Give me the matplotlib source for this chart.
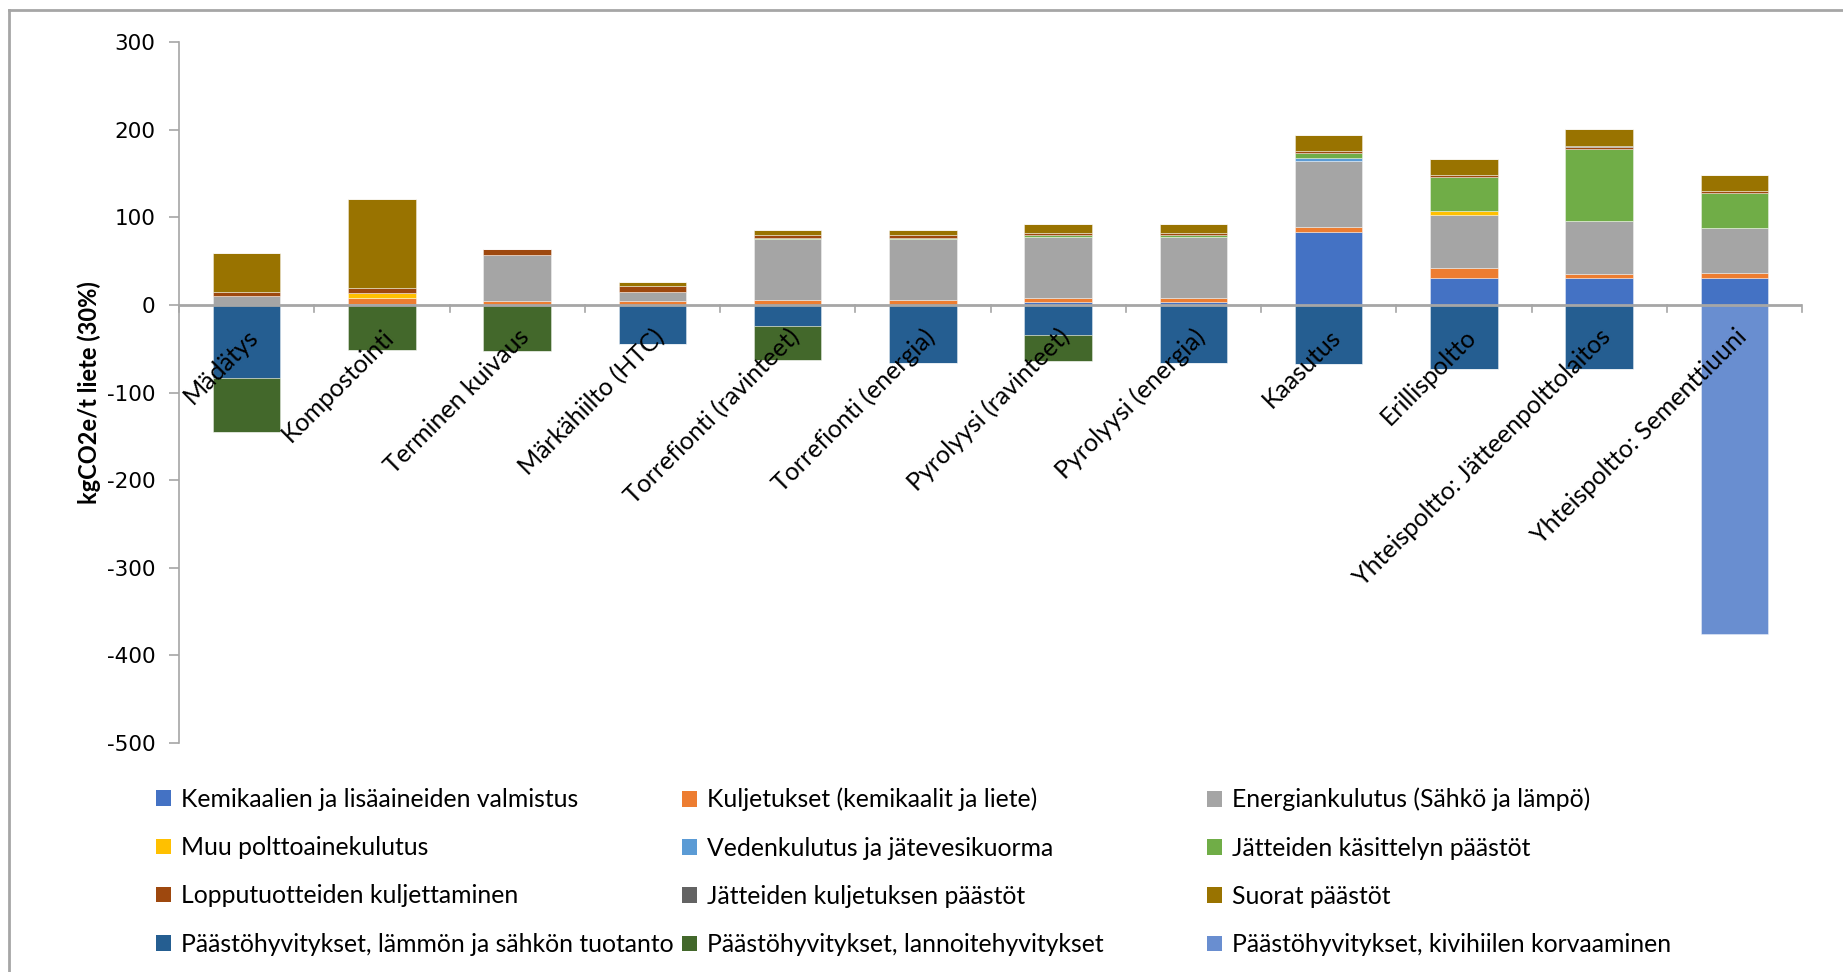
import matplotlib
matplotlib.use("Agg")
import matplotlib.pyplot as plt
from matplotlib.lines import Line2D
from matplotlib.patches import Patch
import numpy as np

plt.rcParams["axes.unicode_minus"] = False

categories = [
    "Mädätys", "Kompostointi", "Terminen kuivaus", "Märkähiilto (HTC)",
    "Torrefionti (ravinteet)", "Torrefionti (energia)", "Pyrolyysi (ravinteet)",
    "Pyrolyysi (energia)", "Kaasutus", "Erillispoltto",
    "Yhteispoltto: Jätteenpolttolaitos", "Yhteispoltto: Sementtiuuni",
]

# Emission components (kgCO2e / t sludge), positive stack from bottom up
kemikaalit = [0, 1.5, 0, 0, 0, 0, 3, 3, 83, 30.5, 30.5, 30.5]
kuljetukset = [0, 6, 5, 4.5, 6, 6, 4.5, 4.5, 6.5, 12, 5.5, 6]
energia = [10, 0, 52.5, 10.5, 69.5, 69.5, 70, 70, 75, 60.5, 60.5, 52]
muu_polttoaine = [0, 6.5, 0, 0, 0, 0, 0, 0, 0, 4, 0, 0]
vedenkulutus = [0, 0, 0, 0, 0, 0, 0, 0, 3.5, 0, 0, 0]
jatteiden_kasittely = [0, 0, 0, 0, 1, 1, 2.5, 2.5, 5.5, 39.5, 81.5, 39.5]
lopputuotteet = [5, 6, 6, 7, 3, 3, 2.5, 2.5, 2.5, 2, 2, 2.5]
jatteiden_kuljetus = [0, 0, 0, 0, 0, 0, 0, 0, 0, 0, 2, 0]
suorat = [44, 101, 0, 4.5, 6.5, 6.5, 10, 10, 18.5, 18.5, 18.5, 18.5]

# Emission credits, negative stack from zero downwards
hyvitys_energia = [-83, 0, 0, -45, -24, -66.5, -34, -66.5, -67.5, -72.5, -72.5, 0]
hyvitys_lannoite = [-62, -51.5, -53, 0, -38.5, 0, -30, 0, 0, 0, 0, 0]
hyvitys_kivihiili = [0, 0, 0, 0, 0, 0, 0, 0, 0, 0, 0, -375]

series_names = [
    "Kemikaalien ja lisäaineiden valmistus",
    "Kuljetukset (kemikaalit ja liete)",
    "Energiankulutus (Sähkö ja lämpö)",
    "Muu polttoainekulutus",
    "Vedenkulutus ja jätevesikuorma",
    "Jätteiden käsittelyn päästöt",
    "Lopputuotteiden kuljettaminen",
    "Jätteiden kuljetuksen päästöt",
    "Suorat päästöt",
    "Päästöhyvitykset, lämmön ja sähkön tuotanto",
    "Päästöhyvitykset, lannoitehyvitykset",
    "Päästöhyvitykset, kivihiilen korvaaminen",
]
series_values = [
    kemikaalit, kuljetukset, energia, muu_polttoaine, vedenkulutus,
    jatteiden_kasittely, lopputuotteet, jatteiden_kuljetus, suorat,
    hyvitys_energia, hyvitys_lannoite, hyvitys_kivihiili,
]
series_colors = [
    "#4472C4", "#ED7D31", "#A5A5A5", "#FFC000", "#5B9BD5", "#70AD47",
    "#9E480E", "#636363", "#997300", "#255E91", "#43682B", "#698ED0",
]

TEXT_FONT = ["Lato", "DejaVu Sans"]
AXIS_GREY = "#A6A6A6"
W, H = 1843, 972

fig = plt.figure(figsize=(W / 100, H / 100), dpi=100)
ax = fig.add_axes([179 / W, 1 - 743 / H, (1802 - 179) / W, (743 - 42.3) / H])

x = np.arange(len(categories))
pos_base = np.zeros(len(categories))
neg_base = np.zeros(len(categories))
for vals, color in zip(series_values, series_colors):
    v = np.array(vals, dtype=float)
    pos = np.where(v > 0, v, 0)
    neg = np.where(v < 0, v, 0)
    ax.bar(x, pos, bottom=pos_base, width=0.5, color=color,
           edgecolor=(1, 1, 1, 0.45), linewidth=0.6, zorder=2)
    ax.bar(x, neg, bottom=neg_base, width=0.5, color=color,
           edgecolor=(1, 1, 1, 0.45), linewidth=0.6, zorder=2)
    pos_base += pos
    neg_base += neg

ax.set_xlim(-0.5, len(categories) - 0.5)
ax.set_ylim(-500, 300)
ax.set_yticks(np.arange(-500, 301, 100))
ax.tick_params(axis="y", direction="out", length=7, width=1.2, color=AXIS_GREY,
               labelsize=15.5, pad=10)
for lbl in ax.get_yticklabels():
    lbl.set_fontfamily("DejaVu Sans")

for side in ("top", "right", "bottom"):
    ax.spines[side].set_visible(False)
ax.spines["left"].set_color(AXIS_GREY)
ax.spines["left"].set_linewidth(1.2)

# Category axis drawn along the zero line, tick marks between categories
ax.set_xticks([])
ax.axhline(0, color=AXIS_GREY, linewidth=2, zorder=3)
for b in np.arange(-0.5, len(categories), 1.0):
    ax.plot([b, b], [0, -8], color=AXIS_GREY, linewidth=1.2, zorder=3,
            clip_on=False)

for xi, name in zip(x, categories):
    ax.text(xi + 0.1, -38, name, rotation=45, rotation_mode="anchor",
            ha="right", va="baseline", fontsize=18, family=TEXT_FONT,
            color="black", zorder=4)

ax.set_ylabel("kgCO2e/t liete (30%)", fontsize=17, fontweight="bold",
              family=TEXT_FONT, labelpad=4)

# Legend: three columns, filled row by row
handles = [Patch(facecolor=c, edgecolor="none") for c in series_colors]
col_x = [146, 672, 1197]
for col, cx in enumerate(col_x):
    idx = list(range(col, len(series_names), 3))
    fig.legend([handles[i] for i in idx], [series_names[i] for i in idx],
               ncol=1, loc="upper left", bbox_to_anchor=(cx / W, 1 - 778 / H),
               frameon=False, prop={"family": TEXT_FONT, "size": 17.8},
               handlelength=0.6, handleheight=0.6, handletextpad=0.4,
               labelspacing=1.02, borderaxespad=0)

# Chart area frame
fig.add_artist(Line2D([9 / W, 9 / W], [0, 1 - 10 / H],
                      transform=fig.transFigure, color=AXIS_GREY, linewidth=2))
fig.add_artist(Line2D([9 / W, 1], [1 - 10 / H, 1 - 10 / H],
                      transform=fig.transFigure, color=AXIS_GREY, linewidth=2))

fig.savefig("out.png", dpi=100, facecolor="white")
